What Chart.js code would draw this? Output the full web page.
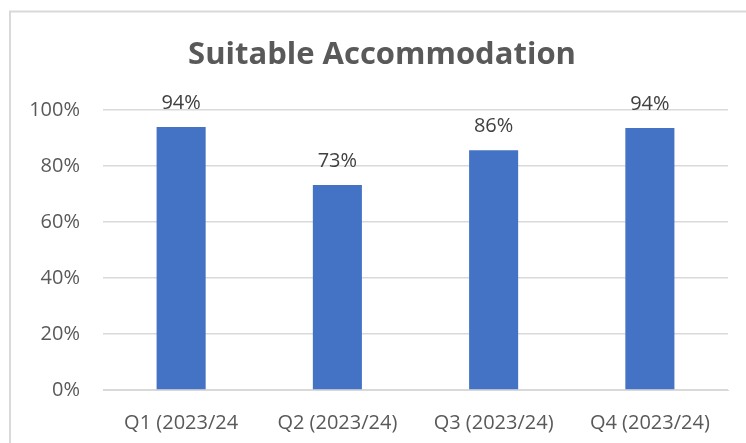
<!DOCTYPE html>
<html>
<head>
<meta charset="utf-8">
<script src="https://cdn.jsdelivr.net/npm/chart.js@4"></script>
<style>
  html,body{margin:0;padding:0;background:#fff;}
  #wrap{position:absolute;left:0;top:0;width:746px;height:443px;}
</style>
</head>
<body>
<div id="wrap"><canvas id="c" width="746" height="443"></canvas></div>
<script>
const categories = ["Q1 (2023/24", "Q2 (2023/24)", "Q3 (2023/24)", "Q4 (2023/24)"];
const values = [0.939, 0.732, 0.856, 0.936];
const valueLabels = ["94%", "73%", "86%", "94%"];
const yTicks = [0, 0.2, 0.4, 0.6, 0.8, 1.0];
const titleText = "Suitable Accommodation";

const FONT = "'Open Sans', sans-serif";

const borderPlugin = {
  id: 'outerBorder',
  beforeDraw(chart) {
    const ctx = chart.ctx;
    ctx.save();
    ctx.fillStyle = '#ffffff';
    ctx.fillRect(0, 0, chart.width, chart.height);
    ctx.strokeStyle = '#d9d9d9';
    ctx.lineWidth = 2;
    ctx.beginPath();
    ctx.moveTo(10, chart.height);
    ctx.lineTo(10, 11.5);
    ctx.lineTo(chart.width, 11.5);
    ctx.stroke();
    ctx.restore();
  }
};

const titlePlugin = {
  id: 'chartTitle',
  afterDraw(chart) {
    const ctx = chart.ctx;
    ctx.save();
    ctx.font = "bold 31px " + FONT;
    ctx.fillStyle = '#595959';
    ctx.textAlign = 'center';
    ctx.textBaseline = 'middle';
    ctx.fillText(titleText, 382, 55.6);
    ctx.restore();
  }
};

const labelPlugin = {
  id: 'valueLabels',
  afterDatasetsDraw(chart) {
    const ctx = chart.ctx;
    const meta = chart.getDatasetMeta(0);
    ctx.save();
    ctx.font = "20px " + FONT;
    ctx.fillStyle = '#404040';
    ctx.textAlign = 'center';
    ctx.textBaseline = 'middle';
    meta.data.forEach((bar, i) => {
      ctx.fillText(valueLabels[i], bar.x, bar.y - 24);
    });
    ctx.restore();
  }
};

new Chart(document.getElementById('c'), {
  type: 'bar',
  data: {
    labels: categories,
    datasets: [{
      data: values,
      backgroundColor: '#4472C4',
      borderWidth: 0,
      categoryPercentage: 1,
      barPercentage: 0.314
    }]
  },
  options: {
    responsive: false,
    animation: false,
    devicePixelRatio: 1,
    layout: { padding: { top: 110, left: 14, right: 18, bottom: 0 } },
    plugins: {
      legend: { display: false },
      tooltip: { enabled: false },
      title: { display: false }
    },
    scales: {
      x: {
        grid: { display: false, drawTicks: false },
        border: { display: true, color: '#d9d9d9', width: 1 },
        ticks: { color: '#595959', font: { family: FONT, size: 20 }, padding: 21, maxRotation: 0, autoSkip: false },
        afterFit(scale) { scale.height = 53; }
      },
      y: {
        min: 0, max: 1,
        afterBuildTicks(scale) { scale.ticks = yTicks.map(v => ({ value: v })); },
        grid: { color: '#d9d9d9', lineWidth: 1.5, drawTicks: false },
        border: { display: false },
        ticks: {
          color: '#595959',
          font: { family: FONT, size: 20 },
          padding: 23,
          callback: v => Math.round(v * 100) + '%'
        },
        afterFit(scale) { scale.width = 89; }
      }
    }
  },
  plugins: [borderPlugin, titlePlugin, labelPlugin]
});
</script>
</body>
</html>
